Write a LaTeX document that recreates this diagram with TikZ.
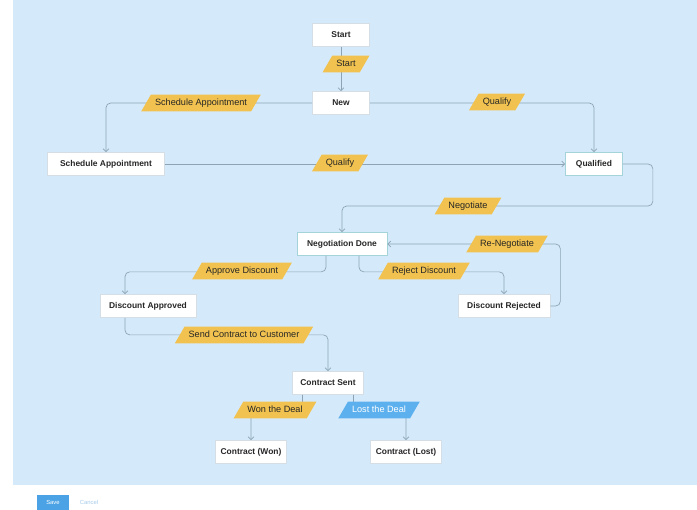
\documentclass[tikz,border=0pt]{standalone}
\usepackage{fontspec}
\setmainfont{Liberation Sans}
\usetikzlibrary{shapes.geometric,arrows.meta}
\definecolor{bgblue}{HTML}{D4EAFB}
\definecolor{linegray}{HTML}{8DA4B4}
\definecolor{lblyellow}{HTML}{F1C24F}
\definecolor{lblblue}{HTML}{5DB0EE}
\definecolor{boxline}{HTML}{D5DEE4}
\definecolor{boxteal}{HTML}{A5D3DA}
\definecolor{savebtn}{HTML}{4BA3E6}
\definecolor{cancelblue}{HTML}{A6CBEA}
\begin{document}
\begin{tikzpicture}[x=0.03cm,y=-0.03cm,
  state/.style={draw=boxline,fill=white,line width=0.6pt,minimum height=0.69cm,inner sep=0pt,
    font=\fontsize{7.2}{8}\selectfont\bfseries,text=black!85},
  trans/.style={trapezium,trapezium left angle=60,trapezium right angle=120,
    fill=lblyellow,text height=5.8pt,text depth=1.6pt,inner xsep=3.5pt,inner ysep=3.5pt,
    font=\fontsize{7.8}{9}\selectfont,text=black!85},
  flow/.style={draw=linegray,line width=0.6pt,rounded corners=4pt,-{Straight Barb[length=2.5pt,width=5pt]}}]
  \useasboundingbox (0,0) rectangle (697,510);
  % canvas
  \fill[bgblue] (13,0) rectangle (697,485);
  % states
  \node[state,minimum width=1.71cm] (start) at (341,35) {Start};
  \node[state,minimum width=1.71cm] (new) at (341,103) {New};
  \node[state,minimum width=3.51cm] (schedA) at (106,164) {Schedule Appointment};
  \node[state,draw=boxteal,minimum width=1.71cm] (qualified) at (594,164) {Qualified};
  \node[state,draw=boxteal,minimum width=2.7cm] (negdone) at (342,244) {Negotiation Done};
  \node[state,minimum width=2.88cm] (discApp) at (148,306) {Discount Approved};
  \node[state,minimum width=2.76cm] (discRej) at (504,306) {Discount Rejected};
  \node[state,minimum width=2.13cm] (sent) at (328,383) {Contract Sent};
  \node[state,minimum width=2.13cm] (won) at (251,452) {Contract (Won)};
  \node[state,minimum width=2.13cm] (lost) at (406,452) {Contract (Lost)};
  % transitions
  \coordinate (ndA) at ([xshift=-0.48cm]negdone.south);
  \coordinate (ndB) at ([xshift=0.51cm]negdone.south);
  \draw[flow] (start) -- (new);
  \draw[flow] (new.west) -| (schedA.north);
  \draw[flow] (new.east) -| (qualified.north);
  \draw[flow] (schedA) -- (qualified);
  \draw[flow] (qualified.east) -| ++(30,42) -| (negdone.north);
  \draw[flow] (discRej.east) -| ++(10,-62) -- (negdone.east);
  \draw[flow] (ndA) -- ++(0,16) -| ([xshift=-0.69cm]discApp.north);
  \draw[flow] (ndB) -- ++(0,16) -| (discRej.north);
  \draw[flow] ([xshift=-0.69cm]discApp.south) -- ++(0,17) -| (sent.north);
  \draw[flow] ([xshift=-0.765cm]sent.south) -- ++(0,15) -| (won.north);
  \draw[flow] ([xshift=0.765cm]sent.south) -- ++(0,15) -| (lost.north);
  % labels
  \node[trans] (lStart) at (346,64) {Start};
  \node[trans] (lSched) at (201,103) {Schedule Appointment};
  \node[trans] (lQualA) at (497,102) {Qualify};
  \node[trans] (lQualB) at (340,163) {Qualify};
  \node[trans] (lNeg) at (468,206) {Negotiate};
  \node[trans] (lReneg) at (507,244) {Re-Negotiate};
  \node[trans] (lAppr) at (242,271) {Approve Discount};
  \node[trans] (lRej) at (424,271) {Reject Discount};
  \node[trans] (lSend) at (244,335) {Send Contract to Customer};
  \node[trans] (lWon) at (275,410) {Won the Deal};
  \node[trans,fill=lblblue,text=white] (lLost) at (379,410) {Lost the Deal};
  % buttons
  \node[fill=savebtn,text=white,minimum width=0.96cm,minimum height=0.45cm,inner sep=0pt,
    font=\fontsize{5}{6}\selectfont] (save) at (53,502.5) {Save};
  \node[text=cancelblue,inner sep=0pt,font=\fontsize{5}{6}\selectfont] (cancel) at (89,502.5) {Cancel};
\end{tikzpicture}
\end{document}
